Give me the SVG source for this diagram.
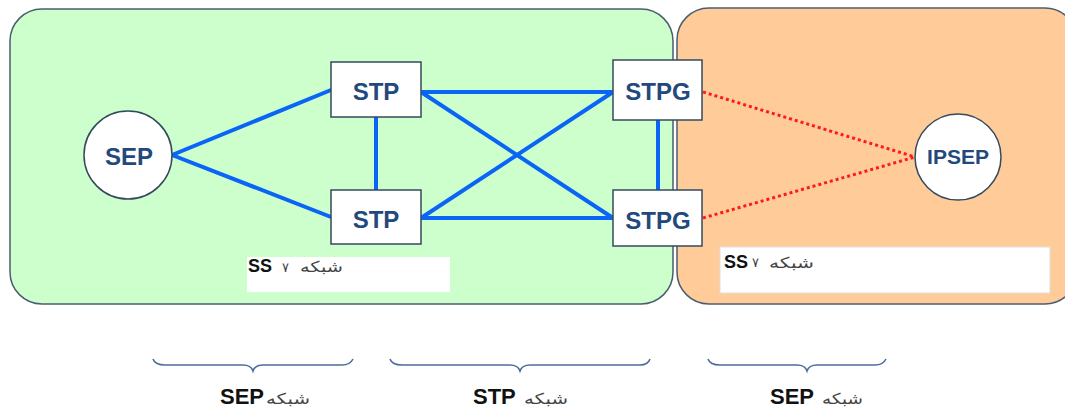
<svg xmlns="http://www.w3.org/2000/svg" width="1065" height="414" viewBox="0 0 1065 414">
<style>
.panel{stroke:#4b5d70;stroke-width:1.5}
.box{fill:#fff;stroke:#34495e;stroke-width:1.5}
.nt{font-family:"Liberation Sans",Arial,sans-serif;font-weight:bold;fill:#23497c;text-anchor:middle}
.blue{stroke:#0a64f5;stroke-width:4;fill:none;stroke-linecap:round}
.red{stroke:#ff1a1a;stroke-width:3;fill:none;stroke-dasharray:3 3}
.brace{stroke:#4a6d9c;stroke-width:1.6;fill:none}
.lat{font-family:"Liberation Sans",Arial,sans-serif;font-weight:bold;fill:#111}
.fa{font-family:"DejaVu Sans",sans-serif;fill:#444}
</style>
<rect width="1065" height="414" fill="#fff"/>
<g id="panel-orange"><rect class="panel" x="677" y="8" width="400" height="296" rx="32" fill="#ffcc99"/></g>
<g id="panel-green"><rect class="panel" x="10" y="9" width="663" height="295" rx="32" fill="#ccffcc"/></g>
<g id="label-box-left">
<rect x="247" y="257" width="203" height="35" fill="#fff"/>
<text class="lat" x="248" y="272" font-size="18">SS</text>
<text class="fa" x="282" y="272" font-size="13">۷</text>
<text class="fa" x="300" y="272" font-size="15" textLength="43" lengthAdjust="spacingAndGlyphs">شبکه</text>
</g>
<g id="label-box-right">
<rect x="720" y="247" width="330" height="46" fill="#fff" stroke="#ddd" stroke-width="1"/>
<text class="lat" x="724" y="268" font-size="18">SS</text>
<text class="fa" x="752" y="267" font-size="13">۷</text>
<text class="fa" x="769" y="268" font-size="15" textLength="45" lengthAdjust="spacingAndGlyphs">شبکه</text>
</g>
<g id="connectors">
<line class="blue" x1="172" y1="155" x2="331" y2="90"/>
<line class="blue" x1="172" y1="155" x2="331" y2="217"/>
<line class="blue" x1="376" y1="117" x2="376" y2="190"/>
<line class="blue" x1="421" y1="92" x2="613" y2="92"/>
<line class="blue" x1="421" y1="92" x2="613" y2="218"/>
<line class="blue" x1="421" y1="218" x2="613" y2="92"/>
<line class="blue" x1="421" y1="218" x2="613" y2="218"/>
<line class="blue" x1="658" y1="120" x2="658" y2="190"/>
<line class="red" x1="703" y1="92" x2="915" y2="157"/>
<line class="red" x1="703" y1="218" x2="915" y2="157"/>
</g>
<g id="node-sep"><circle class="box" cx="128" cy="155" r="44"/><text class="nt" x="129" y="165" font-size="24">SEP</text></g>
<g id="node-stp1"><rect class="box" x="331" y="62" width="90" height="55"/><text class="nt" x="376" y="100" font-size="24">STP</text></g>
<g id="node-stp2"><rect class="box" x="331" y="190" width="90" height="54"/><text class="nt" x="376" y="228" font-size="24">STP</text></g>
<g id="node-stpg1"><rect class="box" x="613" y="60" width="89" height="60"/><text class="nt" x="658" y="100" font-size="24">STPG</text></g>
<g id="node-stpg2"><rect class="box" x="613" y="190" width="89" height="56"/><text class="nt" x="658" y="229" font-size="24">STPG</text></g>
<g id="node-ipsep"><circle class="box" cx="958" cy="157" r="43"/><text class="nt" x="958" y="164" font-size="21">IPSEP</text></g>
<g id="braces">
<path class="brace" d="M153 359 Q155 365 165 365 L243 365 Q251 365 253 371 Q255 365 263 365 L342 365 Q350 365 353 359"/>
<path class="brace" d="M390 359 Q392 365 402 365 L510 365 Q518 365 520 371 Q522 365 530 365 L640 365 Q648 365 650 359"/>
<path class="brace" d="M708 359 Q710 365 720 365 L797 365 Q805 365 807 371 Q809 365 817 365 L875 365 Q883 365 886 359"/>
</g>
<g id="bottom-labels">
<text class="lat" x="220" y="404" font-size="22">SEP</text>
<text class="fa" x="266" y="404" font-size="15" textLength="44" lengthAdjust="spacingAndGlyphs">شبکه</text>
<text class="lat" x="473" y="404" font-size="22">STP</text>
<text class="fa" x="524" y="404" font-size="15" textLength="44" lengthAdjust="spacingAndGlyphs">شبکه</text>
<text class="lat" x="770" y="404" font-size="22">SEP</text>
<text class="fa" x="822" y="404" font-size="15" textLength="41" lengthAdjust="spacingAndGlyphs">شبکه</text>
</g>
</svg>
